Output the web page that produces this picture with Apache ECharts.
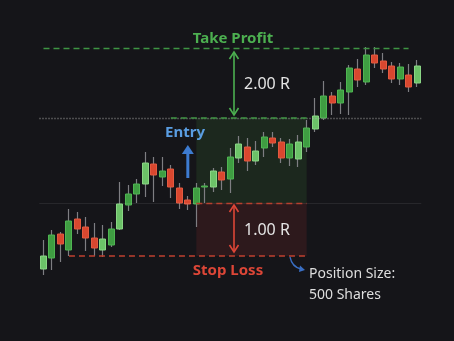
<!DOCTYPE html>
<html><head><meta charset="utf-8">
<script src="https://cdn.jsdelivr.net/npm/echarts@6/dist/echarts.min.js"></script>
<style>html,body{margin:0;padding:0;background:#16161a;}#c{width:454px;height:341px;}</style>
</head><body><div id="c"></div>
<script>
// ---- data ----
const categories = ['D01','D02','D03','D04','D05','D06','D07','D08','D09','D10','D11','D12','D13','D14','D15','D16','D17','D18','D19','D20','D21','D22','D23','D24','D25','D26','D27','D28','D29','D30','D31','D32','D33','D34','D35','D36','D37','D38','D39','D40','D41','D42','D43','D44','D45'];
const openPrices  = [93.4,94.5,96.9,95.3,98.4,97.6,96.5,95.3,95.8,97.4,99.8,100.9,101.9,103.9,102.6,103.4,101.5,100.3,99.9,101.6,101.6,103.1,102.4,104.5,105.6,104.2,105.5,106.5,106.1,104.5,104.4,105.6,107.4,108.5,110.7,110.0,111.1,113.4,112.1,114.8,114.2,113.7,112.4,112.8,112.0];
const closePrices = [94.7,96.8,95.9,98.2,97.4,96.5,95.5,96.4,97.4,99.9,100.9,101.9,104.0,102.8,103.2,101.6,100.0,99.9,101.5,101.7,103.2,102.3,104.6,105.9,104.2,105.2,106.6,106.0,104.5,105.9,106.1,107.5,108.7,110.7,110.0,111.3,113.5,112.3,114.8,114.0,113.4,112.4,113.6,111.6,113.7];
const lowPrices   = [92.8,93.3,94.1,94.7,96.9,95.2,94.7,94.6,95.6,97.3,99.2,100.0,100.6,100.1,101.7,100.5,99.4,99.3,97.6,100.0,101.1,101.3,101.0,104.0,103.2,103.8,104.6,105.6,104.0,103.7,103.6,105.1,107.1,108.3,108.8,108.9,108.8,111.6,111.8,113.5,113.0,112.0,111.8,111.1,111.6];
const highPrices  = [96.3,97.3,97.1,99.4,99.1,98.6,98.0,97.8,98.1,102.1,101.8,102.4,105.1,104.6,104.6,103.8,102.0,100.7,102.0,102.0,103.5,103.6,105.5,106.7,106.5,106.2,107.1,107.1,106.5,106.4,106.8,108.3,110.5,112.2,111.1,112.1,113.8,114.4,115.6,115.6,115.0,114.1,114.0,113.9,114.3];
const lightCandles = [0,7,9,12,20,23,25,30,32,44];

const takeProfit  = 115.5;
const targetLevel = 108.5;
const entryPrice  = 100.0;
const stopLoss    = 94.7;
const tradeStart  = 18;
const tradeEnd    = 31;

const takeProfitText = 'Take Profit';
const entryText = 'Entry';
const stopLossText = 'Stop Loss';
const rewardText = '2.00 R';
const riskText = '1.00 R';
const positionLines = ['Position Size:', '500 Shares'];

// ---- chart ----
const chart = echarts.init(document.getElementById('c'), null, {renderer:'canvas'});
const FONT = '"Noto Sans", "Open Sans", sans-serif';
const GREEN = '#4caf50', RED = '#dc4637', BLUE = '#5a9de2';

const wickData = categories.map((_, i) => [openPrices[i], closePrices[i], lowPrices[i], highPrices[i]]);
const bodyData = categories.map((_, i) => {
  const o = openPrices[i], c = closePrices[i];
  const item = {value: [o, c, Math.min(o, c), Math.max(o, c)]};
  if (lightCandles.includes(i)) item.itemStyle = {color: '#6cc268', borderColor: '#8ad685'};
  return item;
});

chart.setOption({
  backgroundColor: '#151519',
  animation: false,
  grid: {left: 39.25, right: 32.7, top: 0, bottom: 0},
  xAxis: {type: 'category', data: categories, show: false, boundaryGap: true},
  yAxis: {type: 'value', min: 86.2, max: 120.3, show: false, splitLine: {show: false}},
  series: [
    {
      type: 'line', data: [], z: 1, silent: true,
      markArea: {
        silent: true,
        data: [
          [{coord: [tradeStart, targetLevel], itemStyle: {color: 'rgba(60,120,55,0.19)'}}, {coord: [tradeEnd, entryPrice]}],
          [{coord: [tradeStart, entryPrice], itemStyle: {color: 'rgba(130,40,40,0.22)'}}, {coord: [tradeEnd, stopLoss]}]
        ]
      },
      markLine: {
        silent: true, symbol: 'none', label: {show: false},
        data: [
          {yAxis: entryPrice, lineStyle: {color: 'rgba(255,255,255,0.08)', type: 'solid', width: 1}},
          {yAxis: targetLevel, lineStyle: {color: 'rgba(170,170,170,0.5)', type: [1.5, 1.5], width: 1.3}}
        ]
      }
    },
    {
      type: 'candlestick', name: 'wick', z: 2, barWidth: 1, silent: true,
      data: wickData,
      itemStyle: {color: '#7e7e82', color0: '#7e7e82', borderColor: '#7e7e82', borderColor0: '#7e7e82', borderWidth: 1.2}
    },
    {
      type: 'candlestick', name: 'body', z: 3, barWidth: 6.5, silent: true,
      data: bodyData,
      itemStyle: {color: '#3f9d42', color0: '#d9472f', borderColor: '#4fb552', borderColor0: '#e35a40', borderWidth: 1}
    },
    {
      type: 'line', data: [], z: 4, silent: true,
      markLine: {
        silent: true, symbol: 'none', label: {show: false},
        data: [
          [{coord: [0, takeProfit], lineStyle: {color: '#3f9443', type: [6, 4], width: 1.3}}, {coord: [43, takeProfit]}],
          [{coord: [15, targetLevel], lineStyle: {color: '#3f9443', type: [6, 4], width: 1.5}}, {coord: [tradeEnd, targetLevel]}],
          [{coord: [tradeStart, entryPrice], lineStyle: {color: '#b8402f', type: [6, 4], width: 1.3}}, {coord: [tradeEnd, entryPrice]}],
          [{coord: [3, stopLoss], lineStyle: {color: '#c0402f', type: [6, 4], width: 1.5}}, {coord: [tradeEnd, stopLoss]}]
        ]
      }
    }
  ]
});

const yPix = v => chart.convertToPixel({gridIndex: 0}, [0, v])[1];
const xPix = i => chart.convertToPixel({gridIndex: 0}, [i, entryPrice])[0];
const tpY = yPix(takeProfit), tgY = yPix(targetLevel), enY = yPix(entryPrice), slY = yPix(stopLoss);
const arrowX = 234;

function dblArrow(x, y1, y2, color) {
  const ls = {stroke: color, lineWidth: 1.6, fill: null};
  return [
    {type: 'line', shape: {x1: x, y1: y1, x2: x, y2: y2}, style: ls, z: 10},
    {type: 'polyline', shape: {points: [[x - 4.5, y1 + 7], [x, y1], [x + 4.5, y1 + 7]]}, style: ls, z: 10},
    {type: 'polyline', shape: {points: [[x - 4.5, y2 - 7], [x, y2], [x + 4.5, y2 - 7]]}, style: ls, z: 10}
  ];
}
function txt(text, x, y, color, size, weight, align) {
  return {type: 'text', z: 11, style: {text: text, x: x, y: y, fill: color, fontSize: size, fontWeight: weight, fontFamily: FONT, align: align, verticalAlign: 'middle'}};
}

const ex = xPix(17);
const graphics = [
  txt(takeProfitText, 233, tpY - 9.5, GREEN, 15, 'bold', 'center'),
  ...dblArrow(arrowX, tpY + 4, tgY - 3, GREEN),
  txt(rewardText, 244, (tpY + tgY) / 2 + 1.5, '#e4e4e4', 16, 'normal', 'left'),
  txt(entryText, 185, tgY + 14.5, BLUE, 15, 'bold', 'center'),
  {type: 'line', z: 10, shape: {x1: ex, y1: enY - 25, x2: ex, y2: tgY + 34}, style: {stroke: '#3d7bd0', lineWidth: 3}},
  {type: 'polygon', z: 10, shape: {points: [[ex - 6, tgY + 36], [ex, tgY + 27], [ex + 6, tgY + 36]]}, style: {fill: '#3d7bd0'}},
  ...dblArrow(arrowX, enY + 2, slY - 4, RED),
  txt(riskText, 244, (enY + slY) / 2 + 0.5, '#e4e4e4', 16, 'normal', 'left'),
  txt(stopLossText, 228, slY + 14.5, RED, 15, 'bold', 'center'),
  {type: 'bezierCurve', z: 10, shape: {x1: 290, y1: slY + 1, cpx1: 292, cpy1: slY + 11, x2: 301, y2: slY + 13}, style: {stroke: '#3a6fc4', lineWidth: 1.3, fill: null}},
  {type: 'polygon', z: 10, shape: {points: [[300, slY + 9.5], [305, slY + 14], [299, slY + 16]]}, style: {fill: '#3a6fc4'}},
  txt(positionLines[0], 309, slY + 18.5, '#dedede', 14, 'normal', 'left'),
  txt(positionLines[1], 309, slY + 39.5, '#dedede', 14, 'normal', 'left')
];
chart.setOption({graphic: graphics});
</script>
</body></html>
